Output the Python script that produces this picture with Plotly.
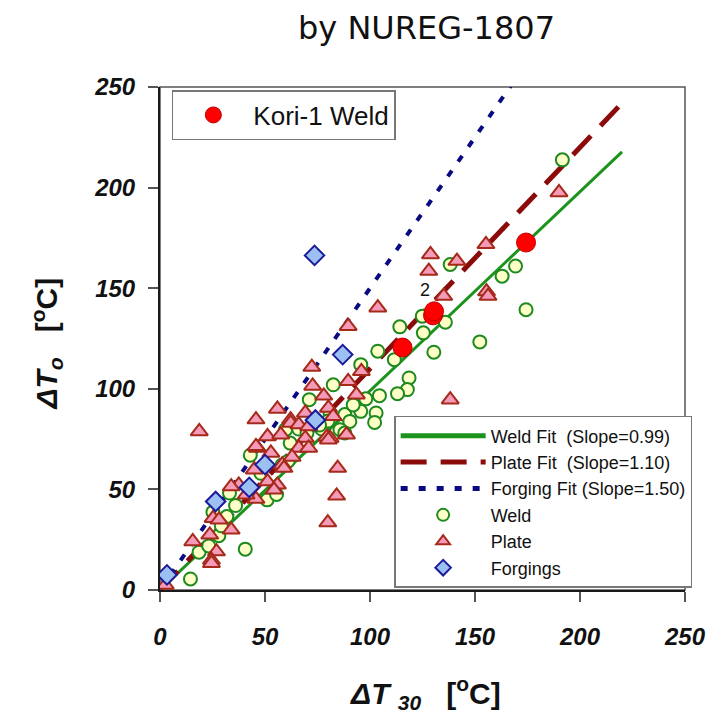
import plotly.graph_objects as go

# Fit slopes for the three material groups
weld_slope = 0.99
plate_slope = 1.10
forging_slope = 1.50
fit_x = [0, 220]

# Weld data: ΔT30 vs ΔTo
weld_x = [191.6, 174.3, 169.3, 162.9, 152.3, 138.2, 135.9, 124.9, 125.4, 114.2,
          130.4, 103.7, 111.6, 118.6, 117.8, 113.1, 104.5, 95.6, 95.6, 102.9,
          102.2, 88.0, 90.4, 82.5, 71.1, 81.0, 85.7, 88.0, 59.8, 43.0,
          51.0, 55.5, 14.5, 40.6, 18.6, 23.2, 28.0, 31.8, 25.2, 33.1,
          29.2, 62.0, 66.0, 70.0, 74.0, 77.0, 80.0, 58.0, 48.0, 36.0,
          61.0, 76.0, 92.0, 98.0]
weld_y = [213.8, 139.3, 161.0, 156.0, 123.3, 161.8, 133.1, 136.1, 127.8, 130.8,
          118.2, 118.7, 114.5, 105.4, 99.6, 97.6, 96.6, 112.0, 88.8, 88.0,
          83.3, 87.2, 83.8, 102.0, 94.6, 88.0, 79.7, 78.0, 79.7, 67.0,
          44.8, 47.5, 5.5, 20.3, 18.8, 21.9, 27.0, 36.5, 38.7, 48.2,
          31.9, 73.0, 80.0, 78.0, 82.0, 80.0, 84.0, 62.0, 58.0, 42.0,
          64.0, 82.0, 92.0, 95.0]

# Plate data
plate_x = [190.0, 155.2, 128.8, 141.4, 128.0, 155.5, 156.2, 135.1, 103.7, 89.6,
           95.9, 89.6, 93.5, 138.2, 72.3, 72.7, 78.0, 55.9, 45.7, 62.2,
           69.2, 80.2, 82.5, 18.7, 51.2, 57.5, 62.2, 66.1, 70.8, 79.4,
           69.2, 66.1, 70.8, 62.9, 58.2, 52.8, 46.4, 44.9, 51.2, 55.9,
           45.7, 88.8, 81.0, 84.6, 84.1, 79.9, 37.5, 33.9, 41.0, 25.3,
           28.1, 33.9, 23.7, 15.6, 26.9, 24.5, 24.5, 2.5, 54.3, 59.0,
           45.7, 80.2]
plate_y = [197.6, 171.8, 166.8, 163.5, 158.5, 148.3, 146.1, 146.1, 140.3, 131.1,
           108.7, 103.7, 97.1, 94.6, 110.8, 101.4, 96.5, 90.0, 84.7, 84.7,
           88.0, 90.5, 86.3, 78.8, 76.3, 77.2, 83.0, 82.2, 81.3, 76.0,
           75.5, 70.6, 70.6, 66.1, 62.3, 68.1, 70.6, 59.8, 53.9, 52.3,
           45.2, 77.2, 75.5, 60.6, 46.8, 33.5, 52.3, 51.4, 47.3, 35.7,
           34.9, 29.9, 27.4, 24.1, 19.1, 14.9, 13.3, 2.5, 49.8, 60.6,
           71.4, 74.7]

# Forging data
forging_x = [3.3, 26.5, 42.5, 50.0, 74.0, 87.0, 73.6]
forging_y = [7.5, 44.0, 51.0, 62.3, 84.5, 117.0, 166.3]

# Kori-1 surveillance weld
kori_x = [115.5, 130.0, 130.5, 174.3]
kori_y = [120.5, 136.5, 138.5, 172.7]

axis_ticks = [0, 50, 100, 150, 200, 250]

fig = go.Figure()

fig.add_trace(go.Scatter(
    x=fit_x, y=[weld_slope * v for v in fit_x], mode="lines",
    name="Weld Fit\u00a0\u00a0(Slope=0.99)",
    line=dict(color="#1d931d", width=3)))
fig.add_trace(go.Scatter(
    x=fit_x, y=[plate_slope * v for v in fit_x], mode="lines",
    name="Plate Fit\u00a0\u00a0(Slope=1.10)",
    line=dict(color="#8b0a0a", width=5, dash="26px,14px")))
fig.add_trace(go.Scatter(
    x=fit_x, y=[forging_slope * v for v in fit_x], mode="lines",
    name="Forging Fit (Slope=1.50)",
    line=dict(color="#0a0a80", width=4, dash="7px,11px")))

fig.add_trace(go.Scatter(
    x=weld_x, y=weld_y, mode="markers", name="Weld",
    marker=dict(symbol="circle", size=13, color="#ffffc8",
                line=dict(color="#1e8a1e", width=2))))
fig.add_trace(go.Scatter(
    x=plate_x, y=plate_y, mode="markers", name="Plate",
    marker=dict(symbol="triangle-up", size=15, color="#f59ab8",
                line=dict(color="#a52a1a", width=2))))
fig.add_trace(go.Scatter(
    x=forging_x, y=forging_y, mode="markers", name="Forgings",
    marker=dict(symbol="diamond", size=15, color="#9dc0f2",
                line=dict(color="#1a1a9a", width=2))))
fig.add_trace(go.Scatter(
    x=kori_x, y=kori_y, mode="markers", name="Kori-1 Weld",
    legend="legend2",
    marker=dict(symbol="circle", size=19, color="#ff0000",
                line=dict(color="#c00000", width=1))))

tick_font = dict(family="Liberation Sans, Arial", size=24, color="#111111",
                 weight="bold", style="italic")
axis_common = dict(range=[0, 250], tickvals=axis_ticks, showgrid=False,
                   zeroline=False, showline=True, linecolor="#1a1a1a",
                   linewidth=2, ticks="outside", ticklen=10,
                   tickwidth=1.5, tickcolor="#555555", tickfont=tick_font)
fig.update_xaxes(**axis_common, ticklabelstandoff=14)
fig.update_yaxes(**axis_common, ticklabelstandoff=8)

# Lighter frame on the top and right sides of the plot area
fig.add_shape(type="rect", xref="paper", yref="paper", x0=0, y0=0, x1=1, y1=1,
              line=dict(color="#555555", width=1.5), layer="below")

fig.update_layout(
    width=718, height=717,
    margin=dict(l=160, r=27, t=87, b=127),
    plot_bgcolor="white", paper_bgcolor="white",
    legend=dict(x=0.446, y=0.346, xanchor="left", yanchor="top",
                bgcolor="white", bordercolor="#777777", borderwidth=1.5,
                itemwidth=85, itemsizing="constant",
                font=dict(family="Liberation Sans, Arial", size=18,
                          color="#111111")),
    legend2=dict(x=0.0226, y=0.994, xanchor="left", yanchor="top",
                 bgcolor="white", bordercolor="#777777", borderwidth=1.5,
                 itemwidth=70,
                 font=dict(family="Liberation Sans, Arial", size=26,
                           color="#111111")),
)

label_font = dict(family="Liberation Sans, Arial", size=30, color="#111111",
                  weight="bold")
sp = "\u00a0"
fig.add_annotation(
    text="<i>\u0394T</i><sub><i>o</i></sub>" + sp * 3 + "[<sup>o</sup>C]",
    xref="paper", yref="paper", x=-0.217, y=0.49, textangle=-90,
    xanchor="center", yanchor="middle",
    showarrow=False, font=label_font)
fig.add_annotation(
    text="<i>\u0394T</i>" + sp + "<sub><i>30</i></sub>" + sp * 3 + "[<sup>o</sup>C]",
    xref="paper", yref="paper", x=0.505, y=-0.204,
    xanchor="center", yanchor="middle",
    showarrow=False, font=label_font)
fig.add_annotation(
    text="by NUREG-1807", xref="paper", yref="paper", x=0.508, y=1.117,
    xanchor="center", yanchor="middle", showarrow=False,
    font=dict(family="DejaVu Sans", size=32, color="#111111"))
fig.add_annotation(
    text="2", x=126, y=149, showarrow=False,
    font=dict(family="Liberation Sans, Arial", size=18, color="#111111"))

fig.write_html("out.html")
